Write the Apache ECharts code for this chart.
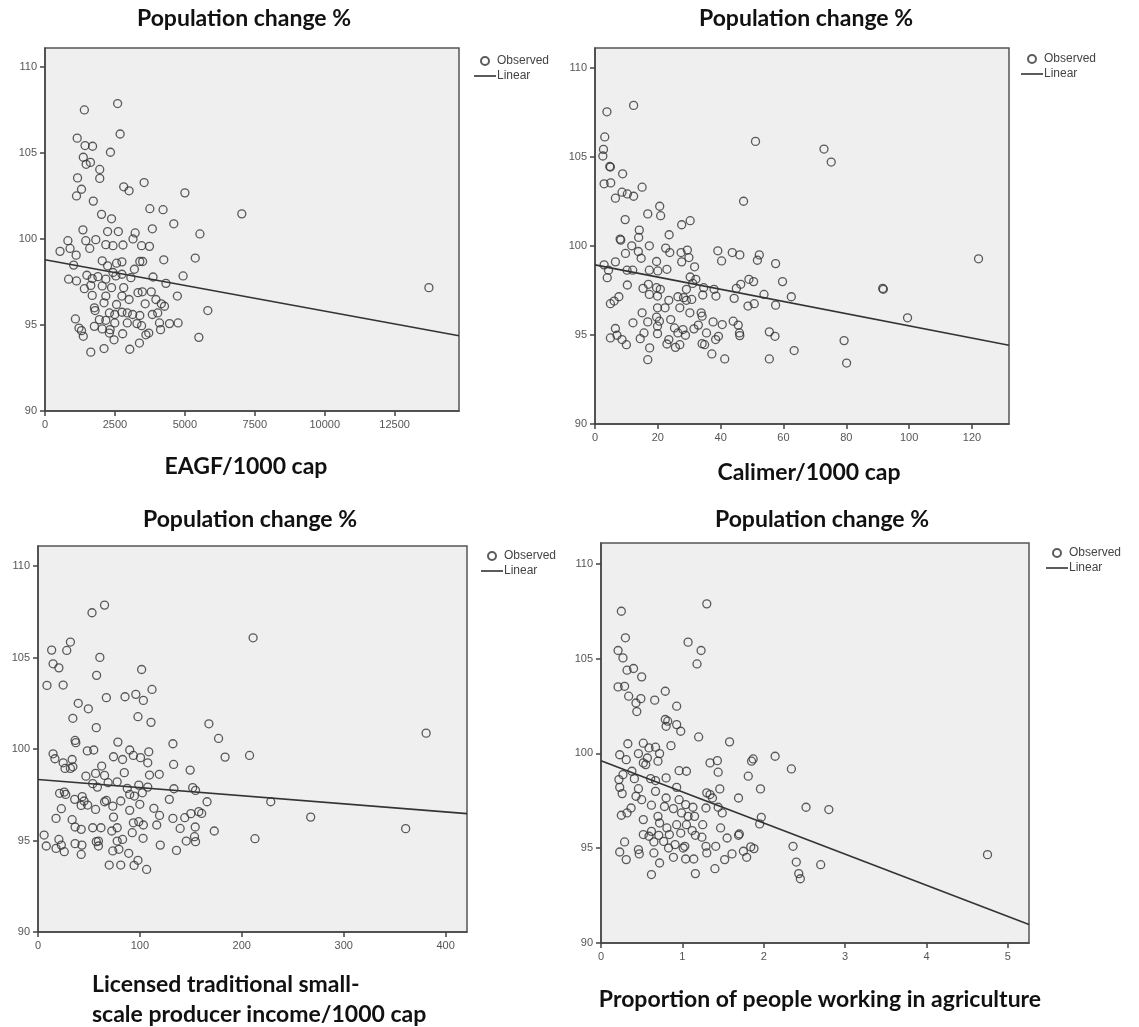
<!DOCTYPE html>
<html><head><meta charset="utf-8">
<script src="https://cdn.jsdelivr.net/npm/echarts@6/dist/echarts.min.js"></script>
<style>html,body{margin:0;padding:0;background:#fff}#c{width:1139px;height:1027px}</style>
</head><body><div id="c"></div>
<script>
// ---------- data ----------
const yTicks = [90, 95, 100, 105, 110];
const yMax = 111.1;

const eagfTicks = [0, 2500, 5000, 7500, 10000, 12500];
const eagfMax = 14800;
const eagfX = [1407,2596,2686,1151,1432,1701,2340,1369,1471,1624,1957,1957,1164,1305,1126,1727,2814,3006,3543,5001,3748,4221,2021,2379,7035,4604,1356,2238,2622,3223,3837,5538,818,1458,1816,537,895,1113,1599,2174,2430,2788,3146,3453,3735,5372,4246,3389,3491,1023,2046,2238,2558,2750,3197,844,1126,1497,1688,1893,2174,2430,2533,2750,3070,3863,4937,4323,1407,1637,2046,2379,2814,3325,3479,3799,1688,2174,2750,3006,4732,3965,2110,2558,3581,4157,4272,1765,5820,1790,2302,2494,2750,2942,3134,3389,3837,4029,1087,1944,2174,2494,2942,3287,3453,4093,4451,4758,1215,1305,1765,2046,2328,4131,1369,2776,3607,3709,5500,2302,2468,3376,2110,3031,1637,13724];
const eagfY = [107.5,107.87,106.1,105.86,105.43,105.39,105.04,104.75,104.34,104.45,104.04,103.52,103.55,102.89,102.5,102.2,103.03,102.8,103.28,102.68,101.76,101.7,101.43,101.17,101.46,100.88,100.53,100.43,100.43,100.35,100.59,100.29,99.9,99.9,99.96,99.28,99.45,99.06,99.45,99.67,99.61,99.65,100.0,99.61,99.57,98.89,98.79,98.69,98.69,98.48,98.73,98.44,98.59,98.67,98.24,97.66,97.56,97.89,97.7,97.81,97.66,98.05,97.85,97.95,97.75,97.79,97.85,97.42,97.11,97.3,97.27,97.17,97.17,96.88,96.93,96.93,96.72,96.68,96.68,96.48,96.68,96.48,96.29,96.19,96.23,96.23,96.09,96.0,95.84,95.84,95.7,95.61,95.74,95.7,95.61,95.55,95.61,95.7,95.35,95.31,95.27,95.12,95.12,95.08,94.96,95.12,95.08,95.12,94.82,94.67,94.92,94.77,94.73,94.73,94.34,94.49,94.43,94.53,94.28,94.53,94.14,93.95,93.63,93.59,93.42,97.17];
const eagfLineX = [0, 14800];
const eagfLineY = [98.79, 94.37];

const calTicks = [0, 20, 40, 60, 80, 100, 120];
const calMax = 131.8;
const calX = [12.3,3.8,3.1,2.7,2.5,4.7,4.9,8.8,2.9,5.0,15.0,8.6,10.3,12.3,6.5,20.6,20.9,16.8,47.3,51.1,72.9,75.2,9.6,30.3,27.6,14.1,23.6,8.0,13.9,8.2,17.3,11.7,22.5,9.7,13.8,23.8,27.4,29.4,39.1,43.7,46.1,52.3,51.7,40.3,57.5,122.1,2.9,6.5,14.7,19.6,27.6,29.9,4.3,3.9,10.2,12.0,17.3,20.0,22.9,31.7,30.3,32.1,49.0,50.5,59.7,10.3,15.3,17.0,19.6,20.8,29.1,31.1,34.6,37.9,46.4,45.0,91.6,91.8,17.3,19.9,26.4,28.2,34.3,38.5,53.8,62.5,44.3,7.6,6.1,4.9,23.5,29.1,30.8,57.5,48.7,50.7,19.9,22.3,27.0,15.0,30.2,33.8,99.5,34.1,19.6,20.5,16.8,12.1,24.1,37.6,40.5,44.0,45.6,32.9,19.9,25.3,28.0,31.5,35.5,55.5,46.0,19.9,15.6,28.8,26.4,57.3,46.1,6.5,4.9,7.0,8.6,10.0,14.4,23.5,22.9,25.6,27.0,34.1,34.9,38.4,39.3,79.3,17.4,37.2,41.3,55.5,63.4,80.1,16.8];
const calY = [107.88,107.52,106.11,105.41,105.04,104.45,104.42,104.04,103.48,103.53,103.29,103.01,102.91,102.78,102.67,102.22,101.69,101.79,102.5,105.86,105.43,104.7,101.47,101.41,101.18,100.88,100.62,100.38,100.47,100.32,100.0,100.0,99.87,99.57,99.68,99.62,99.62,99.76,99.72,99.62,99.49,99.49,99.19,99.15,99.0,99.27,98.93,99.1,99.3,99.12,99.1,99.34,98.63,98.21,98.63,98.63,98.63,98.59,98.68,98.82,98.25,98.12,98.12,97.99,97.99,97.8,97.61,97.84,97.65,97.56,97.56,97.89,97.65,97.56,97.84,97.61,97.61,97.56,97.27,97.18,97.14,97.09,97.24,97.18,97.27,97.14,97.05,97.14,96.9,96.75,96.94,96.94,96.99,96.67,96.62,96.75,96.52,96.52,96.52,96.24,96.24,96.24,95.96,96.05,96.0,95.77,95.73,95.68,95.86,95.73,95.58,95.77,95.55,95.55,95.49,95.39,95.3,95.34,95.11,95.17,95.11,95.07,95.11,94.98,95.11,94.92,94.96,95.36,94.83,94.98,94.74,94.45,94.79,94.74,94.49,94.3,94.45,94.51,94.45,94.74,94.92,94.68,94.27,93.93,93.65,93.65,94.12,93.42,93.61];
const calLineX = [0, 131.8];
const calLineY = [98.93, 94.42];

const licTicks = [0, 100, 200, 300, 400];
const licMax = 421;
const licX = [65.3,53.0,211.1,31.8,13.4,28.2,60.7,14.8,20.5,101.7,57.5,8.8,24.7,111.9,67.1,85.4,96.0,103.4,39.5,49.4,34.2,98.1,110.9,167.7,57.2,177.2,380.9,36.4,37.1,78.4,132.4,48.4,54.7,14.8,16.6,24.7,33.5,34.2,26.5,31.8,90.0,93.6,100.6,108.7,74.1,83.0,183.6,207.6,107.7,133.1,62.5,149.3,47.0,56.5,65.3,84.7,119.0,109.4,53.7,68.8,77.7,58.3,98.9,107.7,21.2,25.8,27.2,87.6,133.4,151.8,154.6,43.4,36.0,45.2,65.3,67.1,81.2,90.0,94.6,102.4,128.9,165.9,228.4,42.4,48.7,73.4,22.9,56.5,90.0,99.9,113.7,157.8,160.6,150.0,17.7,33.5,74.1,119.3,132.4,144.0,267.6,36.4,42.4,53.7,61.8,77.7,93.6,98.9,103.4,116.5,139.5,154.3,173.0,360.8,6.0,20.5,57.2,59.3,72.4,83.0,92.5,103.1,153.6,212.9,8.1,17.7,22.9,25.8,36.4,43.1,59.3,73.4,79.4,77.7,120.0,135.9,145.5,154.6,42.4,89.0,69.9,81.2,94.3,98.1,106.6];
const licY = [107.87,107.45,106.08,105.85,105.41,105.39,105.01,104.66,104.44,104.35,104.03,103.48,103.5,103.26,102.81,102.86,102.99,102.66,102.5,102.2,101.68,101.77,101.46,101.38,101.17,100.58,100.87,100.47,100.35,100.38,100.29,99.9,99.95,99.74,99.47,99.25,99.43,99.03,98.94,98.94,99.95,99.65,99.53,99.85,99.58,99.43,99.56,99.65,99.25,99.16,99.07,98.85,98.52,98.67,98.56,98.71,98.62,98.58,98.11,98.16,98.21,97.92,98.03,97.92,97.58,97.65,97.52,97.85,97.83,97.89,97.74,97.4,97.25,97.16,97.12,97.19,97.16,97.52,97.43,97.61,97.25,97.12,97.12,96.92,96.94,96.88,96.74,96.7,96.65,96.98,96.76,96.58,96.48,96.47,96.21,96.14,96.28,96.37,96.21,96.25,96.28,95.74,95.61,95.7,95.7,95.7,95.97,96.03,95.85,95.85,95.66,95.74,95.52,95.65,95.3,95.06,94.94,94.97,95.52,95.06,95.43,95.12,95.21,95.1,94.7,94.57,94.75,94.39,94.83,94.75,94.7,94.43,94.52,94.97,94.75,94.46,94.97,94.94,94.24,94.3,93.66,93.66,93.64,93.92,93.42];
const licLineX = [0, 421];
const licLineY = [98.34, 96.47];

const agrTicks = [0, 1, 2, 3, 4, 5];
const agrMax = 5.26;
const agrX = [1.30,0.25,0.30,1.07,0.21,1.23,0.27,1.18,0.32,0.40,0.50,0.21,0.29,0.79,0.34,0.49,0.43,0.66,0.93,0.44,0.79,0.82,0.80,0.93,0.98,1.20,1.58,0.33,0.52,0.59,0.67,0.86,0.23,0.46,0.57,0.72,2.14,0.31,0.52,0.55,0.70,1.34,1.43,1.85,1.87,2.34,0.96,1.05,1.44,0.38,0.27,0.22,0.41,0.61,0.67,0.80,1.81,0.23,0.46,0.93,1.46,1.96,0.26,0.43,0.50,0.67,0.80,0.96,1.30,1.34,1.37,1.69,0.37,0.62,0.78,0.89,1.04,1.13,1.29,1.44,2.52,2.80,0.25,0.32,0.70,0.99,1.07,1.15,1.49,1.97,1.95,0.52,0.72,0.93,1.05,1.25,1.47,0.81,0.62,0.52,0.59,0.71,0.84,0.98,1.12,1.16,1.24,1.55,1.69,1.70,0.77,0.91,1.03,0.29,0.65,0.83,1.29,1.41,2.36,1.84,1.88,0.23,0.46,0.47,0.65,0.89,1.01,1.30,1.61,1.75,1.79,0.31,0.72,1.04,1.14,1.52,1.40,2.40,2.70,0.62,1.16,2.43,2.45,4.75];
const agrY = [107.89,107.5,106.1,105.87,105.43,105.43,105.04,104.72,104.39,104.48,104.04,103.51,103.54,103.28,103.02,102.89,102.66,102.81,102.49,102.21,101.79,101.7,101.43,101.52,101.17,100.87,100.61,100.51,100.54,100.29,100.33,100.41,99.93,99.99,99.76,99.99,99.85,99.67,99.5,99.41,99.59,99.5,99.62,99.59,99.71,99.18,99.09,99.06,99.01,99.06,98.88,98.62,98.67,98.67,98.57,98.71,98.8,98.21,98.14,98.21,98.13,98.13,97.88,97.74,97.56,98.0,97.65,97.56,97.92,97.83,97.65,97.65,97.12,97.27,97.2,97.09,97.3,97.16,97.12,97.16,97.16,97.04,96.74,96.86,96.68,96.86,96.68,96.68,96.86,96.63,96.28,96.51,96.33,96.24,96.24,96.24,96.07,96.07,95.89,95.72,95.63,95.68,95.72,95.8,95.93,95.68,95.58,95.54,95.68,95.75,95.36,95.19,95.1,95.33,95.33,95.01,95.1,95.1,95.1,95.07,94.98,94.8,94.93,94.7,94.75,94.52,95.01,94.75,94.7,94.84,94.52,94.4,94.22,94.43,94.43,94.4,93.92,94.27,94.13,93.61,93.66,93.66,93.39,94.66];
const agrLineX = [0, 5.26];
const agrLineY = [99.62, 90.97];

const panelTitle = 'Population change %';
const xNames = ['EAGF/1000 cap', 'Calimer/1000 cap', 'Licensed traditional small-\nscale producer income/1000 cap', 'Proportion of people working in agriculture'];

// ---------- layout ----------
const grids = [
  {left: 45, top: 48, width: 414, height: 363},
  {left: 595, top: 48, width: 414, height: 376},
  {left: 38, top: 546, width: 429, height: 386},
  {left: 601, top: 543, width: 428, height: 400}
];
const panels = [
  {x: eagfX, y: eagfY, lx: eagfLineX, ly: eagfLineY, ticks: eagfTicks, max: eagfMax},
  {x: calX, y: calY, lx: calLineX, ly: calLineY, ticks: calTicks, max: calMax},
  {x: licX, y: licY, lx: licLineX, ly: licLineY, ticks: licTicks, max: licMax},
  {x: agrX, y: agrY, lx: agrLineX, ly: agrLineY, ticks: agrTicks, max: agrMax}
];
const legendPos = [[469, 50], [1016, 48], [476, 545], [1041, 542]];
const titleCenters = [[244, 19], [806, 19], [250, 520], [822, 520]];
const nameBoxes = [
  {x: 246, y: 467, align: 'center'},
  {x: 809, y: 473, align: 'center'},
  {x: 92, y: 1000, align: 'left'},
  {x: 820, y: 1000, align: 'center'}
];

const axisFont = 'Liberation Sans';
const boldFont = 'Lato';
const zip = (a, b) => a.map((v, i) => [v, b[i]]);

const xAxes = [], yAxes = [], series = [], legends = [], graphics = [];
panels.forEach((p, i) => {
  xAxes.push({
    gridIndex: i, type: 'value', min: p.ticks[0], max: p.max,
    interval: p.ticks[1] - p.ticks[0],
    axisLine: {show: true, onZero: false, lineStyle: {color: '#444', width: 1.5}},
    axisTick: {show: true, length: 5, lineStyle: {color: '#444', width: 1.5}},
    axisLabel: {showMaxLabel: false, color: '#555', fontSize: 11, fontFamily: axisFont, margin: 8, formatter: v => String(v)},
    splitLine: {show: false}
  });
  yAxes.push({
    gridIndex: i, type: 'value', min: yTicks[0], max: yMax,
    interval: yTicks[1] - yTicks[0],
    axisLine: {show: true, onZero: false, lineStyle: {color: '#444', width: 1.5}},
    axisTick: {show: true, length: 5, lineStyle: {color: '#444', width: 1.5}},
    axisLabel: {showMaxLabel: false, color: '#555', fontSize: 11, fontFamily: axisFont, margin: 8, formatter: v => String(v)},
    splitLine: {show: false}
  });
  series.push({
    name: 'Observed', type: 'scatter', xAxisIndex: i, yAxisIndex: i,
    data: zip(p.x, p.y), symbol: 'circle', symbolSize: 8,
    itemStyle: {color: 'rgba(0,0,0,0)', borderColor: '#333', borderWidth: 1.3},
    emphasis: {disabled: true}, animation: false
  });
  series.push({
    name: 'Linear', type: 'line', xAxisIndex: i, yAxisIndex: i,
    data: zip(p.lx, p.ly), symbol: 'none', showSymbol: false,
    lineStyle: {color: '#333', width: 1.6}, itemStyle: {color: '#333'},
    emphasis: {disabled: true}, animation: false
  });
  legends.push({
    left: legendPos[i][0], top: legendPos[i][1], orient: 'vertical',
    data: [{name: 'Observed'}, {name: 'Linear', icon: 'path://M0,0H22V1.6H0Z'}],
    itemWidth: 22, itemHeight: 8, itemGap: 3,
    selectedMode: false,
    textStyle: {fontSize: 12, color: '#444', fontFamily: axisFont, padding: [0, 0, 0, -4]}
  });
  graphics.push({
    type: 'text', x: titleCenters[i][0], y: titleCenters[i][1],
    style: {text: panelTitle, font: 'bold 23px ' + boldFont, fill: '#111', textAlign: 'center', textVerticalAlign: 'middle'}
  });
  graphics.push({
    type: 'text', x: nameBoxes[i].x, y: nameBoxes[i].y,
    style: {text: xNames[i], font: 'bold 23px ' + boldFont, fill: '#111', textAlign: nameBoxes[i].align, textVerticalAlign: 'middle', lineHeight: 30}
  });
});

const chart = echarts.init(document.getElementById('c'), null, {renderer: 'canvas'});
chart.setOption({
  backgroundColor: '#ffffff',
  animation: false,
  grid: grids.map(g => Object.assign({show: true, backgroundColor: '#efefef', borderColor: '#555', borderWidth: 1.5}, g)),
  xAxis: xAxes,
  yAxis: yAxes,
  legend: legends,
  series: series,
  graphic: graphics
});
</script>
</body></html>
